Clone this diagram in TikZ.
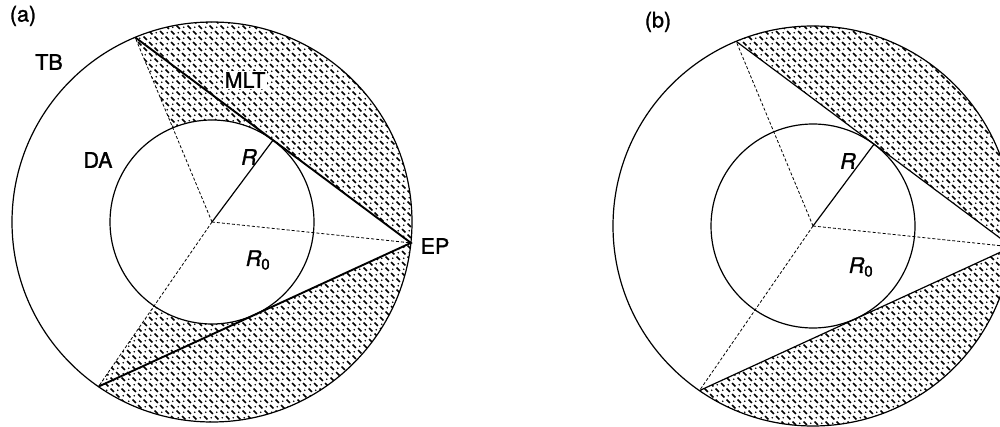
\documentclass[tikz,border=0pt]{standalone}
\usepackage{fontspec}
\setmainfont{TeX Gyre Heros}
\newfontfamily\lblfont{TeX Gyre Heros}[FakeBold=1.3]
\usetikzlibrary{patterns}

\pgfdeclarepatternformonly{plate}{\pgfqpoint{-1pt}{-1pt}}{\pgfqpoint{12pt}{12pt}}{\pgfqpoint{11pt}{11pt}}{%
  \pgfsetlinewidth{1.6pt}
  \pgfpathmoveto{\pgfqpoint{0.6pt}{4.4pt}}\pgfpathlineto{\pgfqpoint{3.9pt}{1.1pt}}
  \pgfpathmoveto{\pgfqpoint{6.1pt}{9.9pt}}\pgfpathlineto{\pgfqpoint{9.4pt}{6.6pt}}
  \pgfusepath{stroke}
  \pgfsetlinewidth{1.1pt}
  \pgfpathmoveto{\pgfqpoint{7.3pt}{2.3pt}}\pgfpathlineto{\pgfqpoint{8.2pt}{3.2pt}}
  \pgfpathmoveto{\pgfqpoint{1.8pt}{7.8pt}}\pgfpathlineto{\pgfqpoint{2.7pt}{8.7pt}}
  \pgfusepath{stroke}
}

\begin{document}
\begin{tikzpicture}[x=1pt,y=1pt,
	circ/.style={ line width=1.2pt },
	spoke/.style={ line width=0.8pt, dash pattern=on 3pt off 2pt },
	chord/.style={ line width=1.9pt },
	chordb/.style={ line width=1.2pt },
	hatch/.style={ pattern=plate },
	lbl/.style={ font=\lblfont\fontsize{21.5}{25}\selectfont, inner sep=0pt }
]

\useasboundingbox (0,0) rectangle (1000,426);
\clip (0,0) rectangle (1000,426);

% (a)
\coordinate (ca) at (212,204);
\coordinate (epa) at ([shift={(-6:200pt)}]ca);
\coordinate (pa1) at ([shift={(112.6:200pt)}]ca);
\coordinate (pa2) at ([shift={(-124.6:200pt)}]ca);
\coordinate (ta1) at ([shift={(53.3:102pt)}]ca);
\coordinate (ta2) at ([shift={(-65.3:102pt)}]ca);

\fill[hatch] (pa1) arc[start angle=112.6,end angle=-6,radius=200pt] -- (ta1)
	arc[start angle=53.3,end angle=112.6,radius=102pt] -- cycle;
\fill[hatch] (pa2) arc[start angle=-124.6,end angle=-6,radius=200pt] -- (ta2)
	arc[start angle=-65.3,end angle=-124.6,radius=102pt] -- cycle;
\draw[circ] (ca) circle[radius=200pt];
\draw[circ] (ca) circle[radius=102pt];
\draw[spoke] (ca) -- (pa1) (ca) -- (pa2) (ca) -- (epa);
\draw[circ] (ca) -- (ta1);
\draw[chord] (pa1) -- (epa) -- (pa2);

\node at (23,410) (laba) [lbl] {(a)};
\node at (49,364) (tb) [lbl] {TB};
\node at (245,346) (mlt) [lbl,fill=white,inner sep=1.5pt] {MLT};
\node at (98,266) (da) [lbl] {DA};
\node at (249,269) (ra) [lbl] {\itshape R};
\node at (258,166) (r0a) [lbl] {\itshape R\textsubscript{\upshape 0}};
\node at (435,180) (ep) [lbl] {EP};

% (b)
\coordinate (cb) at (813,200);
\coordinate (epb) at ([shift={(-6:200pt)}]cb);
\coordinate (pb1) at ([shift={(112.6:200pt)}]cb);
\coordinate (pb2) at ([shift={(-124.6:200pt)}]cb);
\coordinate (tb1) at ([shift={(53.3:102pt)}]cb);

\fill[hatch] (pb1) arc[start angle=112.6,end angle=-6,radius=200pt] -- cycle;
\fill[hatch] (pb2) arc[start angle=-124.6,end angle=-6,radius=200pt] -- cycle;
\draw[circ] (cb) circle[radius=200pt];
\draw[circ] (cb) circle[radius=102pt];
\draw[spoke] (cb) -- (pb1) (cb) -- (pb2) (cb) -- (epb);
\draw[circ] (cb) -- (tb1);
\draw[chordb] (pb1) -- (epb) -- (pb2);

\node at (658,404) (labb) [lbl] {(b)};
\node at (848,265) (rb) [lbl] {\itshape R};
\node at (861,159) (r0b) [lbl] {\itshape R\textsubscript{\upshape 0}};

\end{tikzpicture}
\end{document}
